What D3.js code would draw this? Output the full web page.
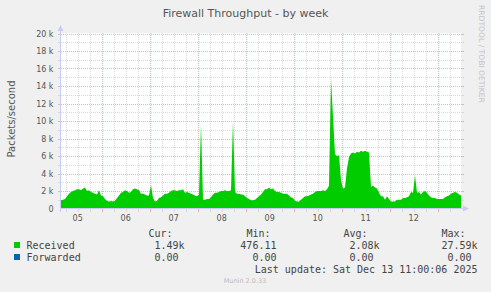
<!DOCTYPE html>
<meta charset="utf-8">
<title>Firewall Throughput - by week</title>
<style>
    body {
        margin: 0;
        background: #F0F0F0;
    }
    svg text {
        fill: #555;
        font-family: "DejaVu Sans", sans-serif;
    }
    .legend text {
        font-family: "DejaVu Sans Mono", monospace;
        font-size: 10px;
        fill: #444;
    }
</style>
<body>
<svg width="491" height="292" id="chart"></svg>
<script src="https://cdnjs.cloudflare.com/ajax/libs/d3/7.8.5/d3.min.js"></script>
<script>
/* series: one sample per hour, starting at startTime (packets/second) */
var startTime = new Date(2025, 11, 5, 3, 40);
var endTime = new Date(2025, 11, 13, 11, 40);

var received = [
    950, 1000, 1100, 1400, 1700, 1900, 2000, 2100, 2200, 2200,
    2100, 2300, 2400, 2000, 2100, 1900, 1800, 1700, 1600, 2100,
    1500, 1400, 1100, 900, 800, 850, 800, 900, 1200, 1500,
    1800, 1900, 2100, 2000, 1800, 1900, 2200, 2300, 2200, 2100,
    1700, 1700, 1600, 1500, 1500, 2700, 1200, 800, 900, 1200,
    1300, 1500, 1700, 1700, 1800, 2000, 2100, 2100, 2000, 2100,
    2100, 2200, 1800, 1900, 1800, 1700, 1600, 1500, 1400, 1600,
    9600, 1000, 1000, 1100, 1100, 1300, 1600, 1800, 1800, 1900,
    2000, 2000, 2100, 2000, 2000, 2100, 10000, 1900, 1700, 1700,
    1600, 1600, 1400, 1200, 1100, 950, 950, 1000, 1200, 1400,
    1600, 1900, 2200, 2200, 2400, 2200, 2300, 2000, 1900, 1900,
    1800, 1700, 1700, 1700, 1500, 1300, 1200, 900, 800, 800,
    1000, 1200, 1400, 1400, 1500, 1600, 1700, 1900, 2000, 2000,
    2000, 2100, 2000, 2200, 2600, 14800, 10500, 6200, 6000, 6100,
    3200, 2300, 2400, 4600, 5900, 6300, 6400, 6300, 6500, 6400,
    6600, 6500, 6600, 6500, 6400, 2500, 2600, 2400, 2300, 1800,
    1400, 1400, 1000, 1400, 1100, 800, 800, 800, 1000, 1000,
    1000, 1200, 1200, 1300, 1400, 1900, 1800, 3800, 1800, 1900,
    1600, 1900, 2000, 1800, 1500, 1300, 1200, 1200, 1100, 1100,
    1100, 1100, 1300, 1400, 1500, 1700, 1800, 1900, 1800, 1600, 1500
];

var yTicks = [0, 2000, 4000, 6000, 8000, 10000, 12000, 14000, 16000, 18000, 20000];
var yMinorTicks = [1000, 3000, 5000, 7000, 9000, 11000, 13000, 15000, 17000, 19000];

/* legend table */
var seriesNames = ["Received", "Forwarded"];
var seriesColors = ["#00CC00", "#0066B3"];
var legendHeads = ["Cur:", "Min:", "Avg:", "Max:"];
var legendValues = [
    ["1.49k", "476.11", "2.08k", "27.59k"],
    ["0.00", "0.00", "0.00", "0.00"]
];
var lastUpdate = "Last update: Sat Dec 13 11:00:06 2025";

var svg = d3.select("#chart");

var x = d3.scaleTime()
    .domain([startTime, endTime])
    .range([61, 461]);

var y = d3.scaleLinear()
    .domain([0, 20000])
    .range([208.5, 33.5]);

var px = function(v) { return Math.round(v) + 0.5; };

svg.append("rect")
    .attr("x", 61).attr("y", 33)
    .attr("width", 400).attr("height", 175.5)
    .attr("fill", "#FFFFFF");

/* grid */
var grid = svg.append("g").attr("class", "grid");
var minorCol = "#d9d9d9", majorCol = "#f0b0b0";

function hLine(v, col) {
    var yy = px(y(v));
    grid.append("line")
        .attr("x1", 61).attr("x2", 461)
        .attr("y1", yy).attr("y2", yy)
        .attr("stroke", col).attr("stroke-dasharray", "1,1");
    grid.append("line")
        .attr("x1", 58).attr("x2", 61).attr("y1", yy).attr("y2", yy).attr("stroke", col);
    grid.append("line")
        .attr("x1", 461).attr("x2", 464).attr("y1", yy).attr("y2", yy).attr("stroke", col);
}
yMinorTicks.forEach(function(v) { hLine(v, minorCol); });
yTicks.slice(1).forEach(function(v) { hLine(v, majorCol); });

x.ticks(d3.timeHour.every(6)).forEach(function(t) {
    var xx = px(x(t));
    var col = t.getHours() === 0 ? majorCol : minorCol;
    grid.append("line")
        .attr("x1", xx).attr("x2", xx)
        .attr("y1", 33).attr("y2", 208)
        .attr("stroke", col).attr("stroke-dasharray", "1,1");
    grid.append("line")
        .attr("x1", xx).attr("x2", xx).attr("y1", 209).attr("y2", 212).attr("stroke", col);
});

/* received area */
var area = d3.area()
    .x(function(d, i) { return x(d3.timeHour.offset(startTime, i)); })
    .y0(y(0))
    .y1(function(d) { return y(d); });

svg.append("path")
    .datum(received)
    .attr("d", area)
    .attr("fill", seriesColors[0]);

/* axes with arrows */
var axisCol = "#C6CEF6";
svg.append("line")
    .attr("x1", 60).attr("x2", 465)
    .attr("y1", 208.5).attr("y2", 208.5)
    .attr("stroke", axisCol);
svg.append("line")
    .attr("x1", 60.5).attr("x2", 60.5)
    .attr("y1", 212).attr("y2", 29)
    .attr("stroke", axisCol);
svg.append("path")
    .attr("d", "M463,205.5L469,208.5L463,211.5Z")
    .attr("fill", axisCol);
svg.append("path")
    .attr("d", "M57.5,31L60.5,25L63.5,31Z")
    .attr("fill", axisCol);

/* y labels */
svg.append("g").selectAll("text")
    .data(yTicks)
    .enter().append("text")
    .attr("x", 53.5)
    .attr("y", function(d) { return y(d) + 3; })
    .attr("text-anchor", "end")
    .attr("font-size", 8)
    .text(function(d) { return d === 0 ? "0" : (d / 1000) + " k"; });

/* x labels at noon */
var fmt = d3.timeFormat("%d");
svg.append("g").selectAll("text")
    .data(x.ticks(d3.timeDay.every(1)).map(function(d) { return d3.timeHour.offset(d, 12); })
        .concat([d3.timeHour.offset(d3.timeDay.floor(startTime), 12)])
        .filter(function(d) { return d >= startTime && d <= endTime; }))
    .enter().append("text")
    .attr("x", function(d) { return x(d); })
    .attr("y", 220.5)
    .attr("text-anchor", "middle")
    .attr("font-size", 8)
    .text(function(d) { return fmt(d); });

/* titles */
svg.append("text")
    .attr("x", 245.5).attr("y", 16.5)
    .attr("text-anchor", "middle")
    .attr("font-size", 11)
    .text("Firewall Throughput - by week");

svg.append("text")
    .attr("transform", "translate(15,119) rotate(-90)")
    .attr("text-anchor", "middle")
    .attr("font-size", 10)
    .text("Packets/second");

svg.append("text")
    .attr("transform", "translate(478.5,5) rotate(90)")
    .attr("font-size", 7.6)
    .style("fill", "#c4c4c4")
    .text("RRDTOOL / TOBI OETIKER");

/* legend */
var lg = svg.append("g").attr("class", "legend");
var colEnds = [184.5, 282.5, 379.5, 477.5];
var charW = 6.02;

lg.selectAll("text.head")
    .data(legendHeads)
    .enter().append("text")
    .attr("class", "head")
    .attr("x", function(d, i) { return colEnds[i] - charW * 6; })
    .attr("y", 237)
    .text(function(d) { return d; });

seriesNames.forEach(function(name, r) {
    var yy = 249 + r * 12;
    lg.append("rect")
        .attr("x", 14).attr("y", yy - 7)
        .attr("width", 6).attr("height", 6)
        .attr("fill", seriesColors[r]);
    lg.append("text")
        .attr("x", 26.5).attr("y", yy)
        .text(name);
    legendValues[r].forEach(function(v, c) {
        var hasUnit = /[a-z]$/i.test(v);
        lg.append("text")
            .attr("x", colEnds[c] - (hasUnit ? 0 : charW))
            .attr("y", yy)
            .attr("text-anchor", "end")
            .text(v);
    });
});

lg.append("text")
    .attr("x", 477.5).attr("y", 273)
    .attr("text-anchor", "end")
    .text(lastUpdate);

svg.append("text")
    .attr("x", 245).attr("y", 283)
    .attr("text-anchor", "middle")
    .attr("font-size", 6.5)
    .style("fill", "#bbbbbb")
    .text("Munin 2.0.33");
</script>
</body>
